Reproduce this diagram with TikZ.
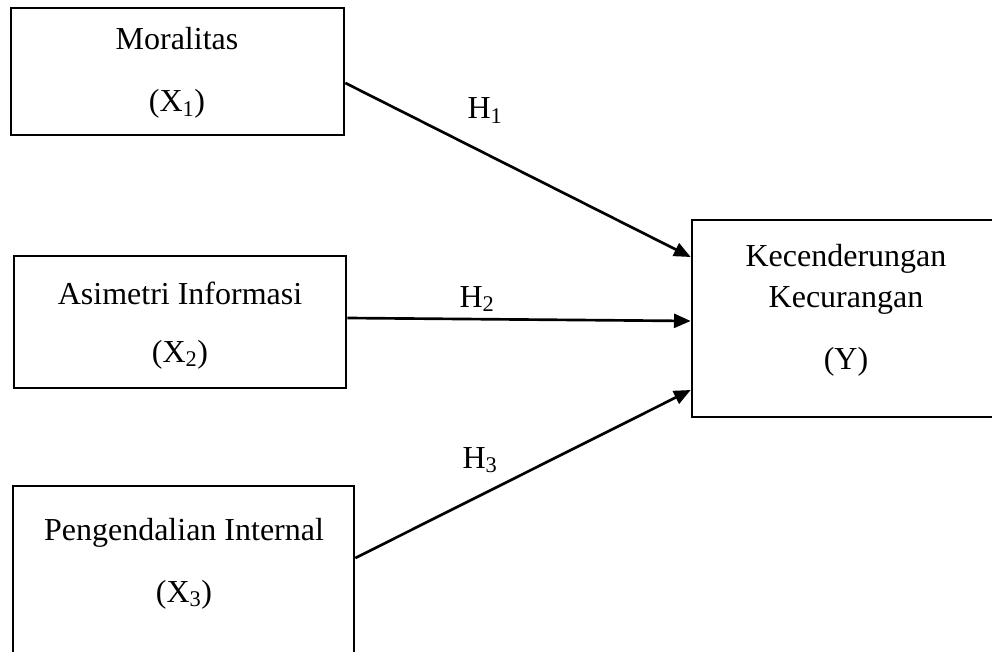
\documentclass[tikz,border=0pt]{standalone}
\usepackage{fontspec}
\setmainfont{Liberation Serif}
\usetikzlibrary{arrows.meta}
\begin{document}
\begin{tikzpicture}[x=0.75pt,y=-0.75pt,
  box/.style={draw,line width=2pt,rectangle,inner sep=0pt},
  lbl/.style={anchor=base,inner sep=0pt,font=\fontsize{24}{29}\selectfont},
  arr/.style={line width=2pt,-{Triangle[length=12.5pt,width=10.5pt]}}]
\useasboundingbox (0,0) rectangle (992,652);
\clip (0,0) rectangle (992,652);
% boxes
\node[box,minimum width=333*0.75pt,minimum height=127*0.75pt] (b1) at (177.5,71.5) {};
\node[box,minimum width=332*0.75pt,minimum height=132*0.75pt] (b2) at (180,322) {};
\node[box,minimum width=341*0.75pt,minimum height=214*0.75pt] (b3) at (183.5,593) {};
\node[box,minimum width=308*0.75pt,minimum height=197*0.75pt] (y) at (846,318.5) {};
% texts
\node[lbl] (t1a) at (177,50) {Moralitas};
\node[lbl] (t1b) at (177,112) {(X\textsubscript{1})};
\node[lbl] (t2a) at (180,305) {Asimetri Informasi};
\node[lbl] (t2b) at (180,362) {(X\textsubscript{2})};
\node[lbl] (t3a) at (184,540) {Pengendalian Internal};
\node[lbl] (t3b) at (184,602) {(X\textsubscript{3})};
\node[lbl] (tya) at (846,267) {Kecenderungan};
\node[lbl] (tyb) at (846,307) {Kecurangan};
\node[lbl] (tyc) at (846,369) {(Y)};
% hypothesis labels
\node[lbl] (h1) at (485,119) {H\textsubscript{1}};
\node[lbl] (h2) at (477,307) {H\textsubscript{2}};
\node[lbl] (h3) at (480,468) {H\textsubscript{3}};
% arrows
\coordinate (s1) at (b1.east |- 0,83);
\coordinate (e1) at (y.west |- 0,257);
\coordinate (s2) at (b2.east |- 0,318);
\coordinate (e2) at (y.west |- 0,321);
\coordinate (s3) at (b3.east |- 0,558);
\coordinate (e3) at (y.west |- 0,390);
\draw[arr] (s1) -- (e1);
\draw[arr] (s2) -- (e2);
\draw[arr] (s3) -- (e3);
\end{tikzpicture}
\end{document}
